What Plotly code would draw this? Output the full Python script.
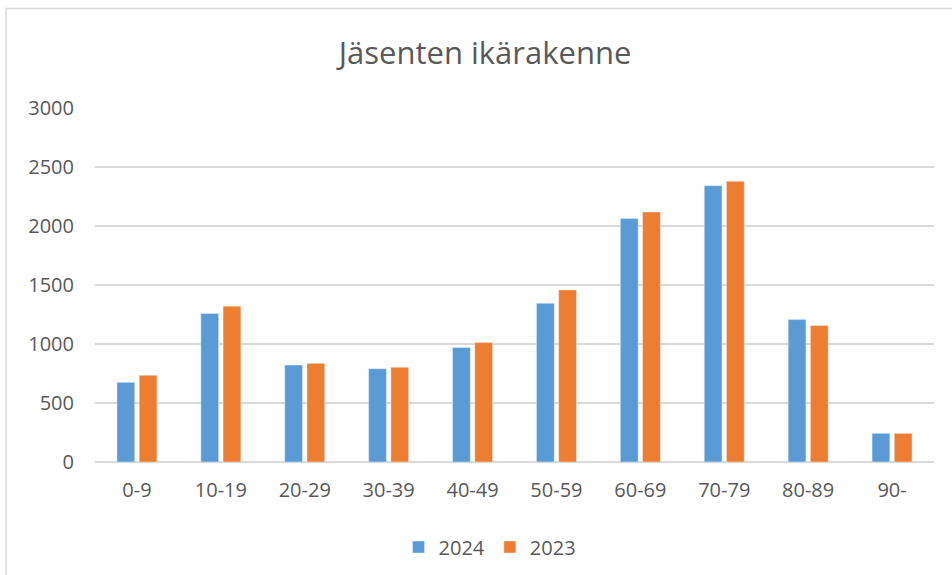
import plotly.graph_objects as go

categories = ["0-9", "10-19", "20-29", "30-39", "40-49", "50-59", "60-69", "70-79", "80-89", "90-"]
values_2024 = [675, 1258, 822, 791, 970, 1345, 2063, 2342, 1207, 243]
values_2023 = [735, 1320, 836, 803, 1012, 1458, 2119, 2379, 1156, 243]
y_ticks = [0, 500, 1000, 1500, 2000, 2500, 3000]

FONT = "Open Sans"
GRAY = "#595959"

fig = go.Figure()
fig.add_trace(go.Bar(name="2024", x=categories, y=values_2024, marker=dict(color="#5B9BD5")))
fig.add_trace(go.Bar(name="2023", x=categories, y=values_2023, marker=dict(color="#ED7D31")))

L, R, T, B = 94.5, 952 - 934.5, 108, 575 - 462
W, H = 952 - L - R, 575 - T - B

fig.update_layout(
    width=952, height=575,
    margin=dict(l=L, r=R, t=T, b=B, autoexpand=False),
    paper_bgcolor="white", plot_bgcolor="white",
    barmode="group", bargap=0.47, bargroupgap=0.2,
    title=dict(text="Jäsenten ikärakenne", x=485 / 952, xanchor="center",
               y=1 - 53 / 575, yanchor="middle",
               font=dict(family=FONT, size=31, color=GRAY)),
    font=dict(family=FONT, size=20, color=GRAY),
    xaxis=dict(showgrid=False, showline=False, ticks="", ticklabelstandoff=14,
               tickfont=dict(size=20, color=GRAY)),
    yaxis=dict(range=[0, 3000], tickvals=y_ticks, showgrid=True, gridcolor="#D9D9D9",
               gridwidth=2, zeroline=True, zerolinecolor="#D9D9D9", zerolinewidth=2,
               ticks="", ticklabelstandoff=20, tickfont=dict(size=20, color=GRAY)),
    legend=dict(orientation="h", x=(490 - L) / W, xanchor="center",
                y=(462 - 547) / H, yanchor="middle", font=dict(size=20, color=GRAY),
                itemwidth=30, traceorder="normal"),
    showlegend=True,
)
fig.add_shape(type="rect", xref="paper", yref="paper",
              x0=(5.5 - L) / W, x1=(960 - L) / W,
              y0=(462 - 590) / H, y1=(462 - 8.5) / H,
              line=dict(color="#D9D9D9", width=1.5), fillcolor="rgba(0,0,0,0)", layer="below")

fig.write_html("out.html", config={"displayModeBar": False},
               post_script="document.body.style.margin='0';document.body.style.overflow='hidden';")
